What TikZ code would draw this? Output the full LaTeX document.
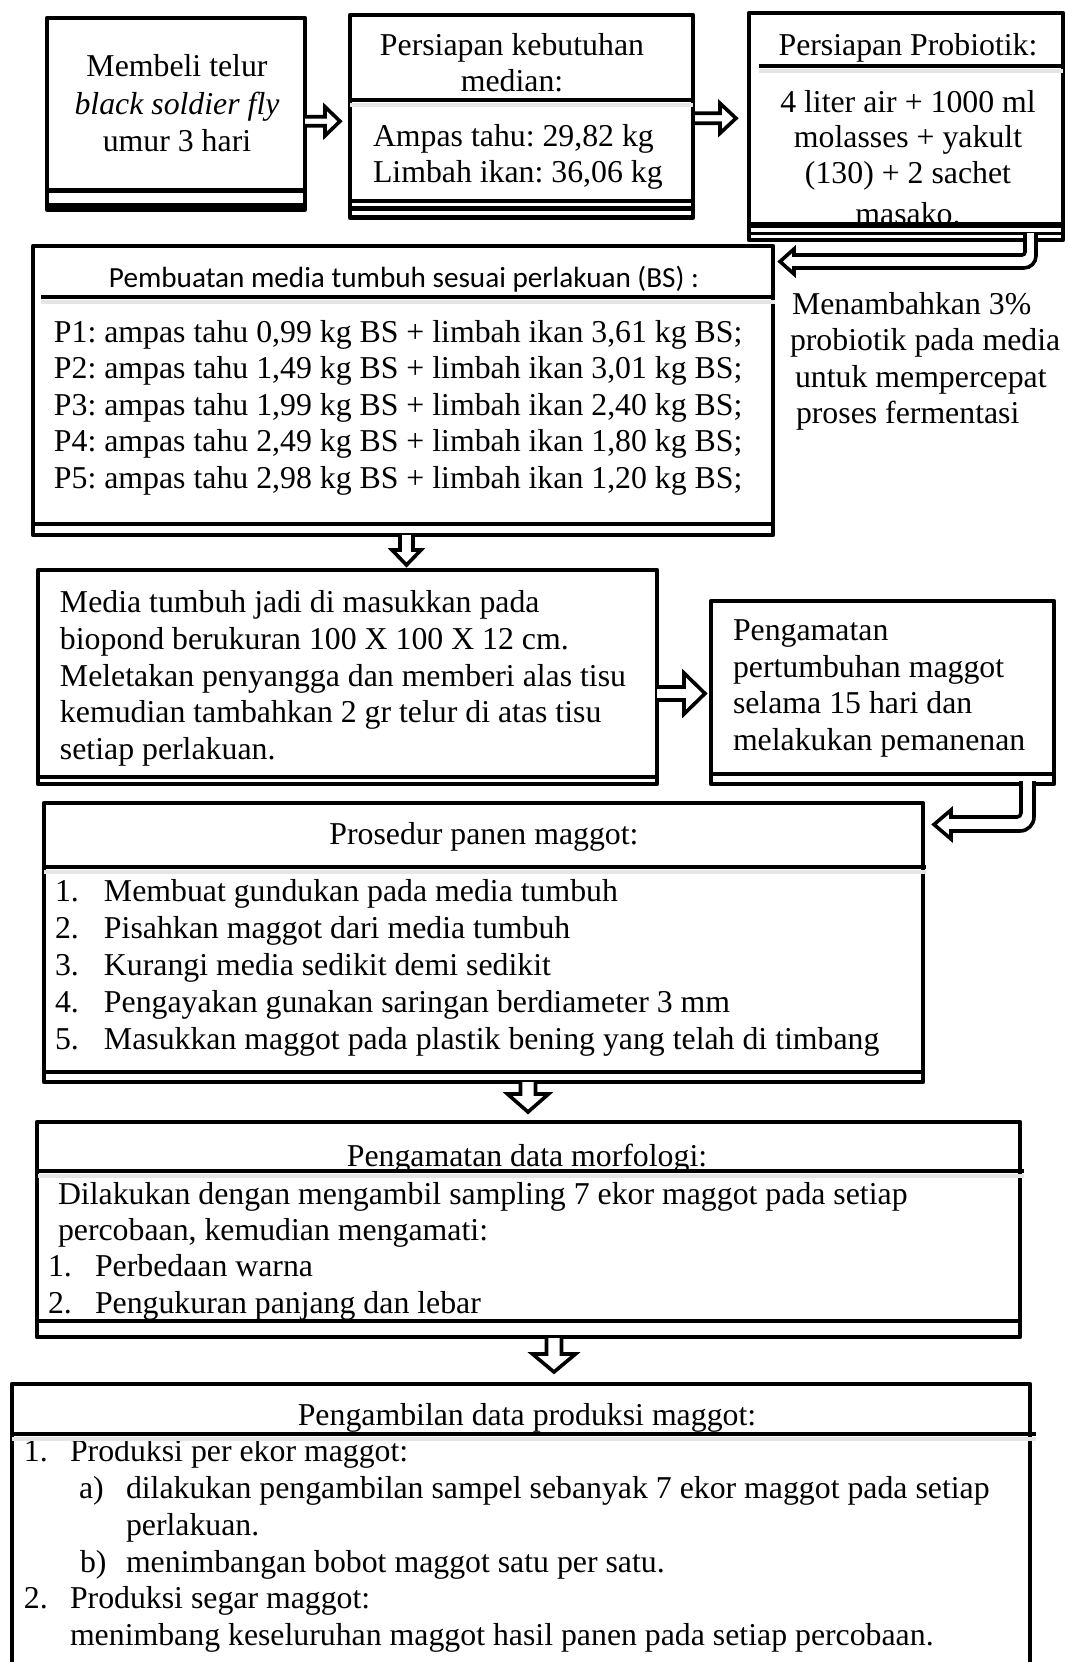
\documentclass[tikz,border=0pt]{standalone}
\usepackage{fontspec}
\setmainfont{Liberation Serif}
\newfontfamily\calfont{Carlito}
\usetikzlibrary{fit}
\frenchspacing
\newcommand\bodyfs{\fontsize{15.9pt}{18pt}\selectfont}
\newcommand\calfs{\calfont\fontsize{14.6pt}{17pt}\selectfont}
\tikzset{
  box/.style={draw, line width=2.2pt, line join=round, inner sep=0pt, outer sep=0pt},
  rulel/.style={line width=2.2pt},
  shadowl/.style={line width=2pt, black!10},
  txt/.style={inner sep=0pt, outer sep=0pt, anchor=base west, font=\bodyfs},
  ctxt/.style={inner sep=0pt, outer sep=0pt, anchor=base, font=\bodyfs},
  blockarrow/.style={draw, fill=white, line width=1.8pt, line join=miter, miter limit=10},
}
\begin{document}
\begin{tikzpicture}[x=0.5pt,y=-0.5pt]
\useasboundingbox (0,0) rectangle (1067,1662);
\fill[white] (0,0) rectangle (1067,1662);

% ---------- boxes ----------
\node[box, fit={(47,18) (305,209.5)}] (b1) {};
\node[box, fit={(350,15) (693,217.5)}] (b2) {};
\node[box, fit={(749,13) (1063,240)}] (b3) {};
\node[box, fit={(33,246) (773,535)}] (b4) {};
\node[box, fit={(38,570) (657,784)}] (b5) {};
\node[box, fit={(711,601) (1054,784)}] (b6) {};
\node[box, fit={(44,803) (923,1082)}] (b7) {};
\node[box, fit={(37,1122) (1020,1337)}] (b8) {};
\node[inner sep=0pt, outer sep=0pt, fit={(12,1384) (1030,1664)}] (b9) {};
\draw[line width=2.2pt, line join=round] (b9.south west) -- (b9.north west) -- (b9.north east) -- (b9.south east);

% ---------- texts ----------
\node[ctxt] (t1a) at (177,76) {Membeli telur};
\node[ctxt] (t1b) at (177,114) {\itshape black soldier fly};
\node[ctxt] (t1c) at (177,151) {umur 3 hari};

\node[ctxt] (t2a) at (512,55) {Persiapan kebutuhan};
\node[ctxt] (t2b) at (512,91) {median:};
\node[txt] (t2c) at (373,146) {Ampas tahu: 29,82 kg};
\node[txt] (t2d) at (373,182) {Limbah ikan: 36,06 kg};

\node[ctxt] (t3a) at (908,55) {Persiapan Probiotik:};
\node[ctxt] (t3b) at (908,112) {4 liter air + 1000 ml};
\node[ctxt] (t3c) at (908,147.5) {molasses + yakult};
\node[ctxt] (t3d) at (908,183) {(130) + 2 sachet};
\node[ctxt] (t3e) at (908,224) {masako.};

\node[inner sep=0pt, anchor=base, font=\calfs] (t4h) at (404,287) {Pembuatan media tumbuh sesuai perlakuan (BS) :};
\node[txt] (t4a) at (54,342) {P1: ampas tahu 0,99 kg BS + limbah ikan 3,61 kg BS;};
\node[txt] (t4b) at (54,378.5) {P2: ampas tahu 1,49 kg BS + limbah ikan 3,01 kg BS;};
\node[txt] (t4c) at (54,415) {P3: ampas tahu 1,99 kg BS + limbah ikan 2,40 kg BS;};
\node[txt] (t4d) at (54,451.5) {P4: ampas tahu 2,49 kg BS + limbah ikan 1,80 kg BS;};
\node[txt] (t4e) at (54,488) {P5: ampas tahu 2,98 kg BS + limbah ikan 1,20 kg BS;};

\node[txt] (tra) at (792,314) {Menambahkan 3\%};
\node[txt] (trb) at (790,350.5) {probiotik pada media};
\node[txt] (trc) at (795,387) {untuk mempercepat};
\node[txt] (trd) at (796,423.5) {proses fermentasi};

\node[txt] (t5a) at (60,612) {Media tumbuh jadi di masukkan pada};
\node[txt] (t5b) at (60,649) {biopond berukuran 100 X 100 X 12 cm.};
\node[txt] (t5c) at (60,686) {Meletakan penyangga dan memberi alas tisu};
\node[txt] (t5d) at (60,722) {kemudian tambahkan 2 gr telur di atas tisu};
\node[txt] (t5e) at (60,759) {setiap perlakuan.};

\node[txt] (t6a) at (733,640) {Pengamatan};
\node[txt] (t6b) at (733,677) {pertumbuhan maggot};
\node[txt] (t6c) at (733,713) {selama 15 hari dan};
\node[txt] (t6d) at (733,750) {melakukan pemanenan};

\node[ctxt] (t7h) at (484,844) {Prosedur panen maggot:};
\node[txt] (n7a) at (55,901) {1.};
\node[txt] (t7a) at (104,901) {Membuat gundukan pada media tumbuh};
\node[txt] (n7b) at (55,938) {2.};
\node[txt] (t7b) at (104,938) {Pisahkan maggot dari media tumbuh};
\node[txt] (n7c) at (55,975) {3.};
\node[txt] (t7c) at (104,975) {Kurangi media sedikit demi sedikit};
\node[txt] (n7d) at (55,1012) {4.};
\node[txt] (t7d) at (104,1012) {Pengayakan gunakan saringan berdiameter 3 mm};
\node[txt] (n7e) at (55,1049) {5.};
\node[txt] (t7e) at (104,1049) {Masukkan maggot pada plastik bening yang telah di timbang};

\node[ctxt] (t8h) at (527,1166) {Pengamatan data morfologi:};
\node[txt] (t8a) at (58,1204) {Dilakukan dengan mengambil sampling 7 ekor maggot pada setiap};
\node[txt] (t8b) at (58,1240) {percobaan, kemudian mengamati:};
\node[txt] (n8c) at (48,1276) {1.};
\node[txt] (t8c) at (95,1276) {Perbedaan warna};
\node[txt] (n8d) at (48,1313) {2.};
\node[txt] (t8d) at (95,1313) {Pengukuran panjang dan lebar};

\node[ctxt] (t9h) at (527,1425) {Pengambilan data produksi maggot:};
\node[txt] (n9a) at (24,1461) {1.};
\node[txt] (t9a) at (70,1461) {Produksi per ekor maggot:};
\node[txt] (n9b) at (79,1498) {a)};
\node[txt] (t9b) at (126,1498) {dilakukan pengambilan sampel sebanyak 7 ekor maggot pada setiap};
\node[txt] (t9c) at (126,1535) {perlakuan.};
\node[txt] (n9d) at (80,1572) {b)};
\node[txt] (t9d) at (126,1572) {menimbangan bobot maggot satu per satu.};
\node[txt] (n9e) at (24,1608) {2.};
\node[txt] (t9e) at (70,1608) {Produksi segar maggot:};
\node[txt] (t9f) at (70,1645) {menimbang keseluruhan maggot hasil panen pada setiap percobaan.};

% ---------- header rules (with faint shadow) ----------
\draw[shadowl] (350,105) -- (693,105);
\draw[rulel] (350,100) -- (693,100);
\draw[shadowl] (759,71) -- (1063,71);
\draw[rulel] (759,66) -- (1063,66);
\draw[shadowl] (41,302) -- (775,302);
\draw[rulel] (41,297) -- (775,297);
\draw[shadowl] (44,872) -- (926,872);
\draw[rulel] (44,867) -- (926,867);
\draw[shadowl] (38,1176) -- (1024,1176);
\draw[rulel] (38,1171) -- (1024,1171);
\draw[shadowl] (12,1439) -- (1036,1439);
\draw[rulel] (12,1434) -- (1036,1434);

% ---------- bottom double rules ----------
\draw[rulel] (47,190.5) -- (305,190.5);
\draw[rulel] (47,205) -- (305,205);
\draw[rulel] (350,201) -- (693,201);
\draw[rulel] (350,208.5) -- (693,208.5);
\fill[white] (751,226) rectangle (1061,238);
\draw[line width=2.6pt] (749,225) -- (1063,225);
\draw[line width=1.6pt] (749,233.5) -- (1063,233.5);
\draw[rulel] (33,524) -- (773,524);
\draw[rulel] (38,777) -- (657,777);
\draw[rulel] (711,774) -- (1054,774);
\draw[rulel] (44,1072) -- (923,1072);
\draw[rulel] (37,1321) -- (1020,1321);

% ---------- block arrows ----------
\begin{scope}[shift={(b1.east)}]
\draw[blockarrow] (0,3) -- (20,3) -- (20,-7) -- (35,7.5) -- (20,22) -- (20,12) -- (0,12);
\end{scope}
\begin{scope}[shift={(b2.east)}]
\draw[blockarrow] (2,-3) -- (27,-3) -- (27,-13) -- (43,2) -- (27,17) -- (27,7) -- (2,7);
\end{scope}
\begin{scope}[shift={(b5.east)}]
\draw[blockarrow] (0,10) -- (27,10) -- (27,-4) -- (48,16.5) -- (27,37) -- (27,23) -- (0,23);
\end{scope}
\begin{scope}[shift={(b4.south)}]
\draw[blockarrow] (-3,0) -- (-3,15) -- (-11,15) -- (3.5,30) -- (18,15) -- (10,15) -- (10,0);
\end{scope}
\begin{scope}[shift={(b7.south)}]
\draw[blockarrow] (37,0) -- (37,12) -- (24,12) -- (44.5,30) -- (65,12) -- (52,12) -- (52,0);
\end{scope}
\begin{scope}[shift={(b8.south)}]
\draw[blockarrow] (18,1) -- (18,17) -- (4,17) -- (25.5,35) -- (47,17) -- (33,17) -- (33,1);
\end{scope}
% U-turn arrow: probiotic box -> media box
\begin{scope}[shift={(b3.south east)}]
\draw[blockarrow] (-38,-7) -- (-38,12) .. controls (-38,13.7) and (-39.3,15) .. (-41,15)
  -- (-269,15) -- (-269,9) -- (-283,21.5) -- (-269,34) -- (-269,28) -- (-39,28)
  .. controls (-32.4,28) and (-27,22.6) .. (-27,16) -- (-27,-7);
\end{scope}
% U-turn arrow: observation box -> harvest box
\begin{scope}[shift={(b6.south east)}]
\draw[blockarrow] (-33,-3) -- (-33,29) .. controls (-33,31.2) and (-34.8,33) .. (-37,33)
  -- (-103,33) -- (-103,26) -- (-120,40.5) -- (-103,55) -- (-103,47) -- (-34,47)
  .. controls (-26.3,47) and (-20,40.7) .. (-20,33) -- (-20,-3);
\end{scope}
\end{tikzpicture}
\end{document}
